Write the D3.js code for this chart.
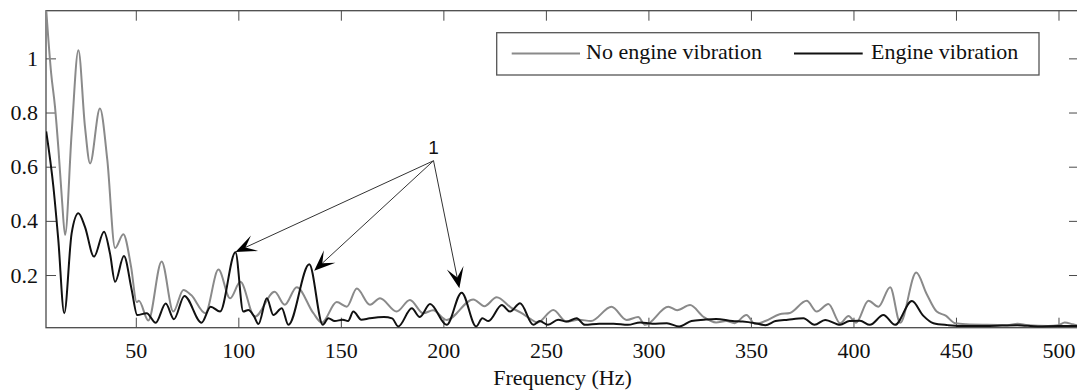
<!DOCTYPE html>
<html>
<head>
<meta charset="utf-8">
<script src="https://cdn.jsdelivr.net/npm/d3@7"></script>
<style>
  html, body { margin: 0; padding: 0; background: #fff; }
  svg { display: block; }
</style>
</head>
<body>
<svg id="chart" width="1077" height="390"></svg>
<script>
// Amplitude spectrum, no engine vibration (grey trace)
const noVibFreq = [6.2, 8.7, 10.6, 12.3, 14.0, 15.5, 18.7, 22.0, 25.2, 27.7, 32.5, 36.1, 39.9, 43.9, 47.7, 50.4, 51.5, 56.1,
  62.6, 68.3, 73.2, 77.0, 83.9, 90.3, 96.0, 101.0, 108.0, 117.7, 122.6, 128.5, 136.6, 140.7, 148.0, 152.9, 157.8,
  164.2, 169.1, 177.2, 183.7, 190.2, 195.0, 201.6, 214.6, 220.0, 226.0, 233.0, 238.0, 242.0, 246.0, 253.6, 260.0,
  266.0, 272.0, 282.0, 289.4, 295.0, 298.4, 309.7, 314.0, 320.3, 326.8, 333.0, 338.0, 342.0, 347.8, 352.0, 357.0,
  364.0, 369.0, 377.2, 382.1, 387.8, 393.5, 397.6, 401.3, 407.3, 412.2, 417.9, 422.8, 430.6, 435.7, 440.6, 445.0,
  449.6, 455.0, 465.0, 475.0, 480.0, 485.0, 495.0, 500.0, 503.0, 507.0, 510.0];
const noVibAmp = [1.19, 0.946, 0.82, 0.662, 0.477, 0.348, 0.723, 1.03, 0.748, 0.612, 0.815, 0.625, 0.30, 0.351, 0.23, 0.10, 0.105, 0.032,
  0.25, 0.065, 0.145, 0.126, 0.059, 0.22, 0.114, 0.175, 0.046, 0.138, 0.09, 0.155, 0.059, 0.024, 0.10, 0.083, 0.15,
  0.09, 0.114, 0.065, 0.108, 0.059, 0.07, 0.034, 0.11, 0.085, 0.118, 0.08, 0.06, 0.04, 0.025, 0.071, 0.028,
  0.035, 0.03, 0.083, 0.034, 0.045, 0.016, 0.083, 0.07, 0.089, 0.046, 0.025, 0.03, 0.022, 0.052, 0.02, 0.03,
  0.055, 0.06, 0.105, 0.065, 0.093, 0.022, 0.049, 0.024, 0.105, 0.083, 0.155, 0.024, 0.209, 0.13, 0.065, 0.05,
  0.022, 0.018, 0.016, 0.015, 0.02, 0.015, 0.012, 0.015, 0.025, 0.018, 0.012];

// Amplitude spectrum, engine vibration (black trace)
const vibFreq = [6.3, 9.8, 12.2, 15.1, 18.7, 22.0, 25.2, 29.6, 34.5, 37.4, 39.9, 44.2, 48.0, 50.7, 55.3, 59.7, 64.6, 68.6,
  73.7, 82.1, 86.5, 91.1, 98.6, 102.4, 104.9, 107.5, 109.8, 113.9, 117.1, 121.2, 124.4, 134.6, 141.2, 143.9, 147.0,
  151.0, 153.5, 156.1, 160.0, 164.0, 171.0, 175.0, 178.0, 184.6, 188.5, 193.5, 201.6, 208.9, 216.0, 219.0, 222.0,
  228.5, 232.5, 237.4, 243.9, 247.0, 251.0, 256.0, 260.0, 265.0, 269.0, 276.0, 283.0, 290.0, 296.0, 302.0, 309.0,
  315.0, 321.0, 327.0, 333.0, 341.0, 346.0, 352.0, 357.0, 362.0, 368.0, 375.6, 381.0, 386.2, 393.5, 398.0, 403.2,
  408.0, 414.6, 420.3, 428.5, 434.0, 439.0, 446.0, 452.0, 465.0, 480.0, 490.0, 500.0, 510.0];
const vibAmp = [0.73, 0.526, 0.33, 0.059, 0.354, 0.428, 0.378, 0.268, 0.36, 0.28, 0.175, 0.27, 0.145, 0.052, 0.059, 0.024, 0.095, 0.037,
  0.123, 0.024, 0.083, 0.065, 0.284, 0.065, 0.071, 0.05, 0.019, 0.114, 0.052, 0.077, 0.016, 0.24, 0.016, 0.04, 0.03,
  0.035, 0.03, 0.065, 0.035, 0.04, 0.045, 0.04, 0.01, 0.077, 0.045, 0.093, 0.016, 0.135, 0.01, 0.04, 0.03,
  0.089, 0.065, 0.096, 0.016, 0.03, 0.016, 0.035, 0.028, 0.04, 0.016, 0.02, 0.02, 0.016, 0.025, 0.02, 0.022,
  0.01, 0.03, 0.035, 0.038, 0.03, 0.028, 0.022, 0.015, 0.03, 0.035, 0.04, 0.016, 0.034, 0.016, 0.03, 0.031,
  0.016, 0.052, 0.016, 0.104, 0.05, 0.022, 0.015, 0.012, 0.012, 0.015, 0.01, 0.012, 0.012];

const seriesNames = ["No engine vibration", "Engine vibration"];
const seriesColors = ["#8a8a8a", "#111111"];

const xTicks = [50, 100, 150, 200, 250, 300, 350, 400, 450, 500];
const yTicks = [0.2, 0.4, 0.6, 0.8, 1];
const xLabel = "Frequency (Hz)";

// Annotation "1": label anchor and the three marked peaks (frequency, amplitude)
const calloutLabel = "1";
const calloutOrigin = [195.2, 0.622];
const calloutTargets = [[98.6, 0.285], [137.0, 0.216], [207.8, 0.151]];

const serif = '"Liberation Serif", "Times New Roman", Times, serif';
const sans = '"Liberation Sans", Arial, Helvetica, sans-serif';

const svg = d3.select("#chart");
const plotLeft = 46, plotRight = 1079, plotTop = 10.7, plotBottom = 327.7;

const x = d3.scaleLinear().domain([6.2, 510]).range([plotLeft, plotRight]);
const y = d3.scaleLinear().domain([0.0055, 1.176]).range([plotBottom, plotTop]);

svg.append("defs").append("clipPath").attr("id", "plot-clip")
  .append("rect").attr("x", plotLeft).attr("y", plotTop)
  .attr("width", plotRight - plotLeft).attr("height", plotBottom - plotTop);

const axisColor = "#4a4a4a";

// Axes with inward ticks on all four sides
const gx = svg.append("g").attr("transform", `translate(0,${plotBottom})`)
  .call(d3.axisBottom(x).tickValues(xTicks).tickSize(-10).tickSizeOuter(0).tickPadding(15).tickFormat(d3.format("d")));
const gxTop = svg.append("g").attr("transform", `translate(0,${plotTop})`)
  .call(d3.axisTop(x).tickValues(xTicks).tickSize(-10).tickSizeOuter(0).tickFormat(""));
const gy = svg.append("g").attr("transform", `translate(${plotLeft},0)`)
  .call(d3.axisLeft(y).tickValues(yTicks).tickSize(-10).tickSizeOuter(0).tickPadding(8).tickFormat(d => d3.format("~g")(d)));
const gyRight = svg.append("g").attr("transform", `translate(${plotRight},0)`)
  .call(d3.axisRight(y).tickValues(yTicks).tickSize(-10).tickSizeOuter(0).tickFormat(""));

[gx, gxTop, gy, gyRight].forEach(g => {
  g.attr("font-family", serif).attr("font-size", 22);
  g.select(".domain").remove();
  g.selectAll(".tick line").attr("stroke", axisColor).attr("stroke-width", 1);
  g.selectAll(".tick text").attr("fill", "#111");
});

svg.append("rect")
  .attr("x", plotLeft).attr("y", plotTop)
  .attr("width", plotRight - plotLeft).attr("height", plotBottom - plotTop)
  .attr("fill", "none").attr("stroke", axisColor).attr("stroke-width", 1.3);

svg.append("text")
  .attr("x", (plotLeft + plotRight) / 2).attr("y", 385)
  .attr("text-anchor", "middle")
  .attr("font-family", serif).attr("font-size", 22).attr("fill", "#111")
  .text(xLabel);

// Spectrum traces
const line = d3.line().x(d => x(d[0])).y(d => y(d[1])).curve(d3.curveMonotoneX);
const traces = [d3.zip(noVibFreq, noVibAmp), d3.zip(vibFreq, vibAmp)];
const plot = svg.append("g").attr("clip-path", "url(#plot-clip)");
traces.forEach((pts, i) => {
  plot.append("path").datum(pts)
    .attr("fill", "none")
    .attr("stroke", seriesColors[i])
    .attr("stroke-width", 2)
    .attr("stroke-linejoin", "round")
    .attr("d", line);
});

// Legend
const legend = svg.append("g");
legend.append("rect")
  .attr("x", 496.7).attr("y", 32.7).attr("width", 542.3).attr("height", 42.3)
  .attr("fill", "#fff").attr("stroke", "#555").attr("stroke-width", 1.3);
const legendItems = [{ x0: 511.7, x1: 580, tx: 586 }, { x0: 794, x1: 862.7, tx: 871 }];
legendItems.forEach((it, i) => {
  legend.append("line")
    .attr("x1", it.x0).attr("x2", it.x1).attr("y1", 53.5).attr("y2", 53.5)
    .attr("stroke", seriesColors[i]).attr("stroke-width", 2);
  legend.append("text")
    .attr("x", it.tx).attr("y", 58.5)
    .attr("font-family", serif).attr("font-size", 22).attr("fill", "#111")
    .text(seriesNames[i]);
});

// Callout arrows
const ox = x(calloutOrigin[0]), oy = y(calloutOrigin[1]);
const headLen = 21, headHalf = 8.5, notch = 11;
const callout = svg.append("g");
calloutTargets.forEach(t => {
  const tx = x(t[0]), ty = y(t[1]);
  const dx = ox - tx, dy = oy - ty, len = Math.hypot(dx, dy);
  const ux = dx / len, uy = dy / len, px = -uy, py = ux;
  callout.append("line")
    .attr("x1", ox).attr("y1", oy)
    .attr("x2", tx + ux * notch).attr("y2", ty + uy * notch)
    .attr("stroke", "#333").attr("stroke-width", 1);
  const head = [
    [tx, ty],
    [tx + ux * headLen + px * headHalf, ty + uy * headLen + py * headHalf],
    [tx + ux * notch, ty + uy * notch],
    [tx + ux * headLen - px * headHalf, ty + uy * headLen - py * headHalf]
  ];
  callout.append("path")
    .attr("d", "M" + head.map(p => p.join(",")).join("L") + "Z")
    .attr("fill", "#000");
});
callout.append("text")
  .attr("x", ox).attr("y", oy - 7)
  .attr("text-anchor", "middle")
  .attr("font-family", sans).attr("font-size", 19).attr("fill", "#111")
  .text(calloutLabel);
</script>
</body>
</html>
